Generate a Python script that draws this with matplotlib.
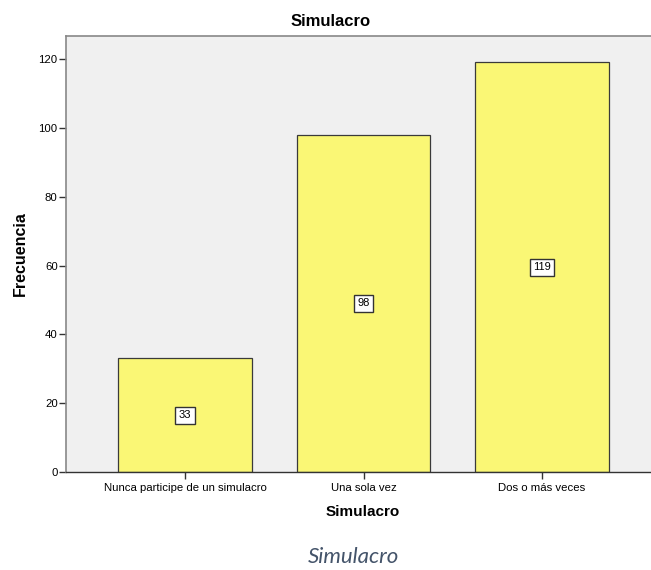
import matplotlib
matplotlib.use("Agg")
import matplotlib.pyplot as plt

categories = ["Nunca participe de un simulacro", "Una sola vez", "Dos o más veces"]
values = [33, 98, 119]
yticks = [0, 20, 40, 60, 80, 100, 120]

W, H = 651, 570
fig = plt.figure(figsize=(W / 100, H / 100), dpi=100)
plt.rcParams['font.family'] = ['Liberation Sans', 'DejaVu Sans']

left, right, top, bottom = 66, 661, 36, 472
ax = fig.add_axes([left / W, 1 - bottom / H, (right - left) / W, (bottom - top) / H])
ax.set_facecolor("#F0F0F0")

x = list(range(len(categories)))
ax.bar(x, values, width=0.75, color="#FAF775", edgecolor="#3a3a3a", linewidth=0.9, zorder=2)
for xi, v in zip(x, values):
    ax.text(xi, v / 2, str(v), ha="center", va="center", fontsize=8, zorder=3,
            bbox=dict(boxstyle="square,pad=0.3", facecolor="white", edgecolor="#333333", linewidth=1.0))

ax.set_xlim(-0.667, 2.667)
ax.set_ylim(0, 126.7)
ax.set_yticks(yticks)
ax.set_yticklabels([str(t) for t in yticks], fontsize=8.2)
ax.set_xticks(x)
ax.set_xticklabels(categories, fontsize=8.2)
ax.tick_params(axis="y", length=5, width=1, color="#333333", pad=1)
ax.tick_params(axis="x", length=5, width=1, color="#333333", pad=3)

for s in ["left", "top"]:
    ax.spines[s].set_color("#888888")
    ax.spines[s].set_linewidth(1.2)
ax.spines["bottom"].set_color("#333333")
ax.spines["bottom"].set_linewidth(1.0)
ax.spines["right"].set_visible(False)

fig.text(331 / W, 1 - 22 / H, "Simulacro", ha="center", va="center", fontsize=12, fontweight="bold")
fig.text(20 / W, 1 - 254 / H, "Frecuencia", ha="center", va="center", fontsize=11.5, fontweight="bold", rotation=90)
fig.text(363 / W, 1 - 512 / H, "Simulacro", ha="center", va="center", fontsize=11, fontweight="bold")
fig.text(353 / W, 1 - 557 / H, "Simulacro", ha="center", va="center", fontsize=16, style="italic",
         color="#44546A", family=["Lato", "DejaVu Sans"])

fig.savefig("out.png", dpi=100, facecolor="white")
